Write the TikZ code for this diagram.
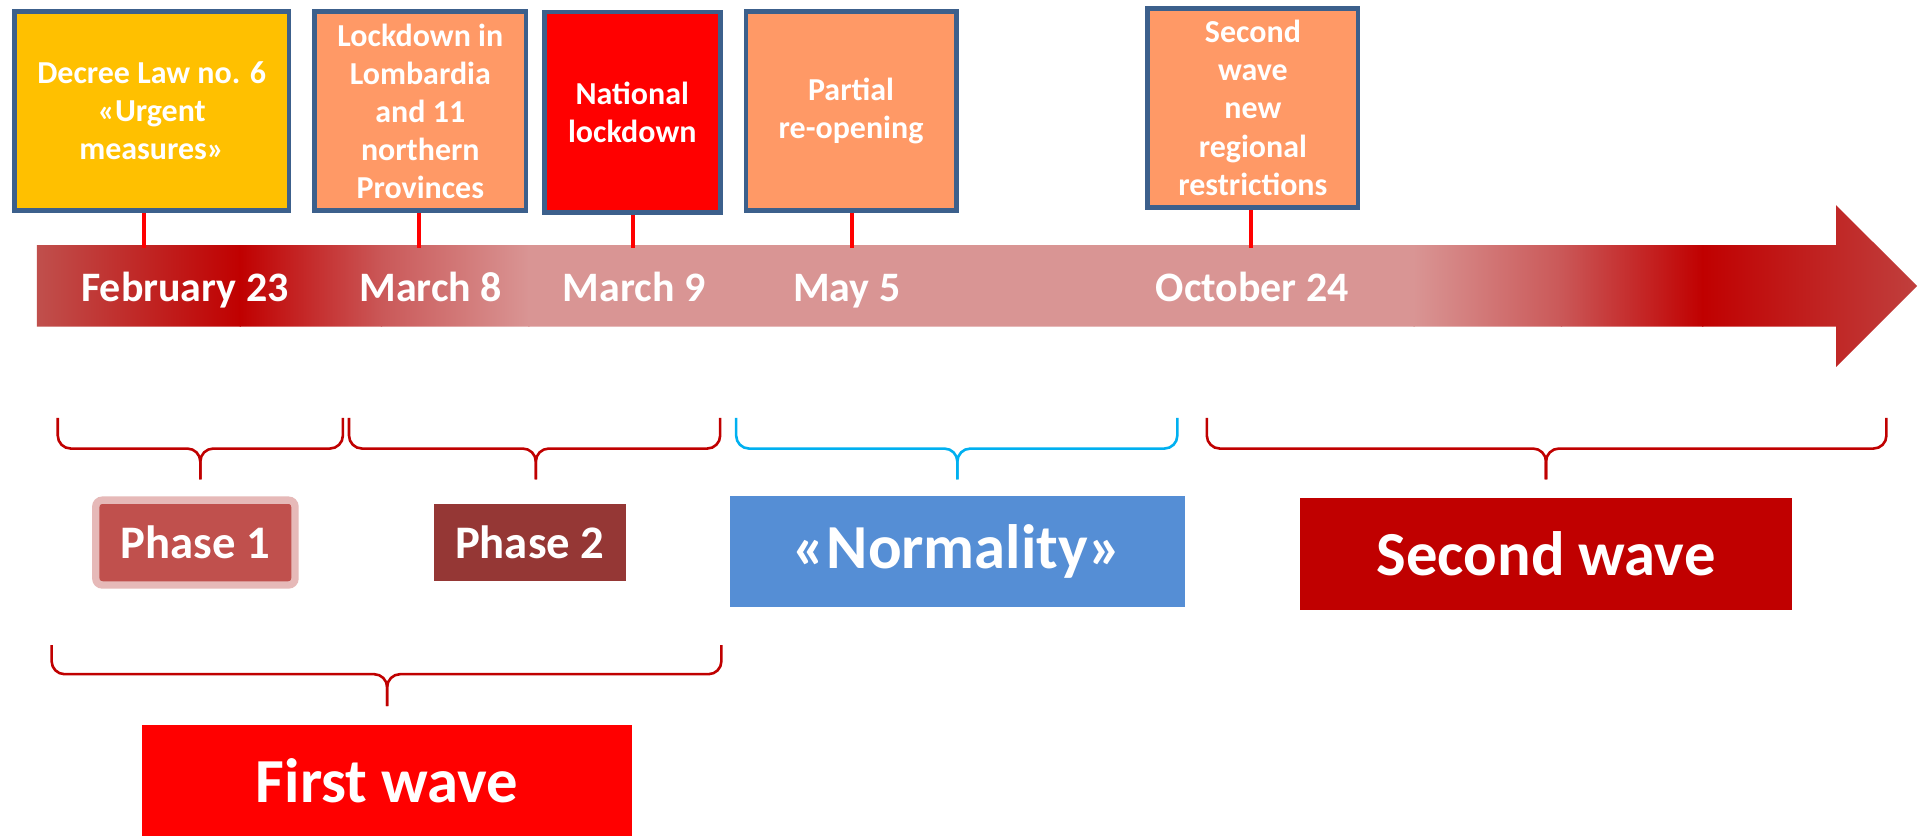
\documentclass[tikz,border=0pt]{standalone}
\usepackage{fontspec}
\setmainfont{Carlito}
\usetikzlibrary{positioning}

\definecolor{boxline}{RGB}{60,96,140}
\definecolor{gold}{HTML}{FFC000}
\definecolor{peach}{HTML}{FF9966}
\definecolor{darkred}{HTML}{C00000}
\definecolor{rosered}{HTML}{C0504D}
\definecolor{midrose}{RGB}{202,88,88}
\definecolor{tipred}{RGB}{192,64,62}
\definecolor{pinkbar}{HTML}{D99594}
\definecolor{brownred}{HTML}{953735}
\definecolor{skyblue}{HTML}{00B0F0}
\definecolor{normblue}{HTML}{558ED5}
\definecolor{phaseedge}{HTML}{E6B9B8}

\begin{document}
\begin{tikzpicture}[x=0.01cm, y=-0.01cm,
  event/.style={draw=boxline, line width=1.1pt, text=white, align=center,
    inner sep=0pt, font=\bfseries\fontsize{7.4}{8.8}\selectfont},
  stem/.style={red, line width=1pt},
  datetag/.style={text=white, anchor=base, font=\bfseries\fontsize{9.7}{11}\selectfont},
  phase/.style={text=white, inner sep=0pt, font=\bfseries\fontsize{10.8}{12}\selectfont},
  period/.style={text=white, inner sep=0pt, font=\bfseries\fontsize{14.5}{16}\selectfont},
  curly/.style={line width=0.6pt, rounded corners=3pt}]

  \path[fill=white] (0,0) rectangle (1568,679);

  % timeline arrow
  \begin{scope}
    \clip (30,199.5) -- (1494,199.5) -- (1494,167) -- (1560,232.7)
      -- (1494,298.6) -- (1494,265.8) -- (30,265.8) -- cycle;
    \foreach \xa/\xb/\ca/\cb in {29/196/rosered/darkred, 195/311/darkred/midrose,
        310/431/midrose/pinkbar, 1150/1271/pinkbar/midrose,
        1270/1386/midrose/darkred, 1385/1562/darkred/tipred}
      \shade[left color=\ca, right color=\cb] (\xa,160) rectangle (\xb,310);
    \fill[pinkbar] (430,160) rectangle (1151,310);
  \end{scope}

  % events
  \node[event, fill=gold, minimum width=2.23cm, minimum height=1.62cm] (decree)
    at (123.5,90.3) {Decree Law no. 6\\«Urgent\\measures»};
  \node[event, fill=peach, minimum width=1.72cm, minimum height=1.62cm] (lombardy)
    at (342,90.3) {Lockdown in\\Lombardia\\and 11\\northern\\Provinces};
  \node[event, fill=red, minimum width=1.43cm, minimum height=1.63cm] (national)
    at (514.5,91.3) {National\\lockdown};
  \node[event, fill=peach, minimum width=1.71cm, minimum height=1.62cm] (reopen)
    at (692.5,90.3) {Partial\\re-opening};
  \node[event, fill=peach, minimum width=1.71cm, minimum height=1.62cm] (newrules)
    at (1019.5,87.8) {Second\\wave\\new\\regional\\restrictions};

  \foreach \n/\x [count=\i] in {decree/117, lombardy/341, national/515, reopen/693, newrules/1018} {
    \coordinate (tick\i) at (\x,202);
    \draw[stem] (\n.south -| tick\i) -- (tick\i);
  }

  % dates
  \node[datetag] (feb23) at (150.5,245) {February 23};
  \node[datetag] (mar8) at (350.5,245) {March 8};
  \node[datetag] (mar9) at (516,245) {March 9};
  \node[datetag] (may5) at (689,245) {May 5};
  \node[datetag] (oct24) at (1019,245) {October 24};

  % braces
  \foreach \a/\m/\b/\c in {47/163/279/darkred, 284/436/586/darkred,
      599/779/958/skyblue, 982/1258/1535/darkred} {
    \draw[curly, \c] (\a,340) -- (\a,365) -- (\m,365) -- (\m,390);
    \draw[curly, \c] (\b,340) -- (\b,365) -- (\m,365) -- (\m,390);
  }
  \draw[curly, darkred] (42,525) -- (42,548.6) -- (315,548.6) -- (315,574.6);
  \draw[curly, darkred] (587,525) -- (587,548.6) -- (315,548.6) -- (315,574.6);

  % periods
  \node[phase, fill=rosered, draw=phaseedge, line width=1.7pt, rounded corners=1.5pt,
    minimum width=1.62cm, minimum height=0.69cm] (phase1) at (159,441.5) {Phase 1};
  \node[phase, fill=brownred, minimum width=1.56cm, minimum height=0.63cm] (phase2)
    at (431,441.5) {Phase 2};
  \node[period, fill=normblue, minimum width=3.70cm, minimum height=0.905cm] (normality)
    at (779,449) {«Normality»};
  \node[period, fill=darkred, minimum width=4.00cm, minimum height=0.91cm] (secondwave)
    at (1258,450.5) {Second wave};
  \node[period, fill=red, minimum width=3.98cm, minimum height=0.9cm] (firstwave)
    at (315,635) {First wave};
\end{tikzpicture}
\end{document}
